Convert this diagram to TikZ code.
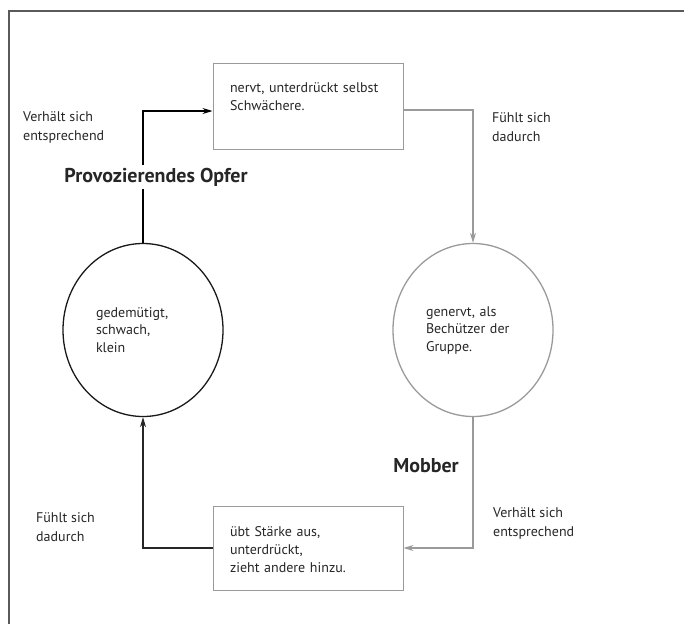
\documentclass[tikz,border=0pt]{standalone}
\usepackage{fontspec}
\setmainfont{PT Sans}
\usetikzlibrary{arrows.meta,shapes.geometric}
\definecolor{inkgray}{HTML}{262626}
\definecolor{linegray}{HTML}{9A9A9A}
\definecolor{framegray}{HTML}{5A5A5A}
\tikzset{
  kstate/.style={ellipse, minimum width=160pt, minimum height=173pt, inner sep=0pt, text width=94pt, align=left, font=\fontsize{14}{17.5}\selectfont, text=inkgray, line width=1.3pt},
  kopfer/.style={kstate, draw=black!90}, kmobber/.style={kstate, draw=linegray},
  kbox/.style={draw=linegray, line width=1pt, text width=156pt, inner xsep=17pt, inner ysep=0pt, text height=29pt, align=left, font=\fontsize{14}{18}\selectfont, text=inkgray},
  klabel/.style={anchor=west, inner sep=0pt, align=left, font=\fontsize{14}{19}\selectfont, text=inkgray},
  kname/.style={font=\fontsize{20}{22}\selectfont\bfseries, text=inkgray},
  flow/.style={-{Stealth[length=10pt, width=6pt]}, line width=1.2pt},
}

\begin{document}
\begin{tikzpicture}[x=1pt, y=-1pt]
    \useasboundingbox (0,0) rectangle (684,624);
    \draw[line width=2pt, draw=framegray] (9,624) -- (9,11) -- (684,11);
    \node[kopfer] (opfer) at (143,330) {gedemütigt,\\schwach,\\klein};
    \node[kmobber] (mobber) at (473,330) {genervt, als\\Bechützer der\\Gruppe.};
    \node[kbox, text depth=57pt] (nervt) at (308,106) {nervt, unterdrückt selbst\\Schwächere.};
    \node[kbox, text height=30pt, text depth=54pt] (staerke) at (308,548) {übt Stärke aus,\\unterdrückt,\\zieht andere hinzu.};
    \node[klabel] (verhaeltoben) at (23,127) {Verhält sich\\entsprechend};
    \node[klabel] (fuehltoben) at (492,127) {Fühlt sich\\dadurch};
    \node[klabel] (fuehltunten) at (36,527) {Fühlt sich\\dadurch};
    \node[klabel] (verhaeltunten) at (493,523) {Verhält sich\\entsprechend};
    \draw[flow, draw=black] (opfer.north) |- ([yshift=-5pt]nervt.west);
    \draw[flow, draw=linegray] ([yshift=-4pt]nervt.east) -| (mobber.north);
    \draw[flow, draw=linegray] (mobber.south) |- (staerke.east);
    \draw[flow, draw=inkgray] (staerke.west) -| (opfer.south);
    \node[kname, fill=white] (opfertitel) at (156,177) {Provozierendes Opfer};
    \node[kname] (mobbertitel) at (426,466) {Mobber};
  \end{tikzpicture}
\end{document}
